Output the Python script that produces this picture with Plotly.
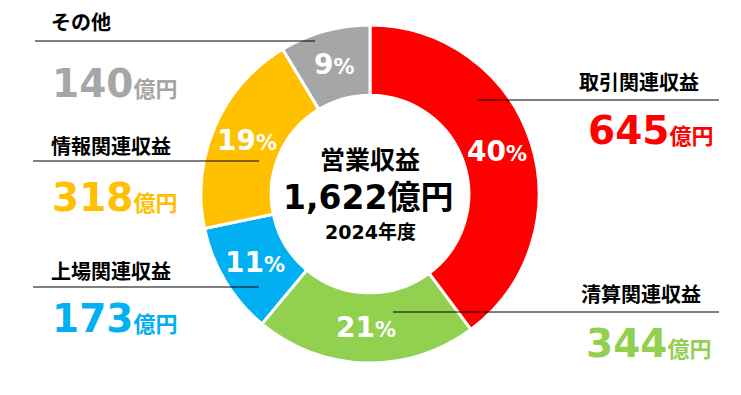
import math
import plotly.graph_objects as go

# ---- data ----
categories = ["取引関連収益", "清算関連収益", "上場関連収益", "情報関連収益", "その他"]
values = [645, 344, 173, 318, 140]
percents = [40, 21, 11, 19, 9]
colors = ["#FF0000", "#92D050", "#00B0F0", "#FFC000", "#A6A6A6"]
center_title = "営業収益"
total_label = "1,622"
unit = "億円"
fiscal_year = "2024年度"

W, H = 741, 395
OFF = 8  # default page body margin
FW, FH = W - 2 * OFF, H - 2 * OFF
FONT_NUM = "DejaVu Sans, Noto Sans CJK JP, sans-serif"
FONT_JP = "Noto Sans CJK JP, sans-serif"


def px(x):
    return (x - OFF) / FW


def py(y):
    return 1 - (y - OFF) / FH


cx, cy, R = 370, 194, 169
HOLE = 0.585

fig = go.Figure()
fig.add_trace(go.Pie(
    labels=categories,
    values=values,
    textinfo="none",
    sort=False,
    direction="clockwise",
    rotation=0,
    hole=HOLE,
    marker=dict(colors=colors, line=dict(color="white", width=3)),
    domain=dict(x=[px(cx - R), px(cx + R)], y=[py(cy + R), py(cy - R)]),
    showlegend=False,
    hoverinfo="skip",
))

annotations = []
shapes = []

# percentage labels at the middle of each slice
total = sum(values)
rm = R * (1 + HOLE) / 2
cum = 0
for v, p in zip(values, percents):
    mid = (cum + v / 2) / total
    cum += v
    th = 2 * math.pi * mid
    x = cx + rm * math.sin(th)
    y = cy - rm * math.cos(th)
    annotations.append(dict(
        x=px(x), y=py(y), xref="paper", yref="paper", showarrow=False,
        xanchor="center", yanchor="middle",
        text=f"<b>{p}<span style='font-size:21px'>%</span></b>",
        font=dict(family=FONT_NUM, size=28, color="white"),
    ))

# outside labels
layout_spec = {
    0: dict(anchor="right", nx=700, ny=82, vx=715, vy=130, line=(477, 719, 100)),
    1: dict(anchor="right", nx=702, ny=293, vx=713, vy=343, line=(393, 719, 312)),
    2: dict(anchor="left", nx=50, ny=270, vx=50, vy=318, line=(33, 259, 287)),
    3: dict(anchor="left", nx=50, ny=145, vx=50, vy=197, line=(33, 259, 161)),
    4: dict(anchor="left", nx=50, ny=21, vx=50, vy=83, line=(35, 315, 41)),
}

for i, spec in layout_spec.items():
    annotations.append(dict(
        x=px(spec["nx"]), y=py(spec["ny"]), xref="paper", yref="paper",
        xanchor=spec["anchor"], yanchor="middle", showarrow=False, borderpad=0,
        text=f"<b>{categories[i]}</b>",
        font=dict(family=FONT_JP, size=20, color="black"),
    ))
    annotations.append(dict(
        x=px(spec["vx"]), y=py(spec["vy"]), xref="paper", yref="paper",
        xanchor=spec["anchor"], yanchor="middle", showarrow=False,
        text=f"<b>{values[i]}<span style='font-size:22px'>{unit}</span></b>",
        font=dict(family=FONT_NUM, size=39, color=colors[i]),
    ))
    x0, x1, ly = spec["line"]
    shapes.append(dict(
        type="line", xref="paper", yref="paper",
        x0=px(x0), x1=px(x1), y0=py(ly), y1=py(ly),
        line=dict(color="black", width=1), layer="above",
    ))

annotations += [
    dict(x=px(370), y=py(158), xref="paper", yref="paper", showarrow=False,
         text=f"<b>{center_title}</b>", font=dict(family=FONT_JP, size=25, color="black")),
    dict(x=px(368), y=py(197), xref="paper", yref="paper", showarrow=False,
         text=f"<b>{total_label}{unit}</b>", font=dict(family=FONT_NUM, size=33, color="black")),
    dict(x=px(370), y=py(232), xref="paper", yref="paper", showarrow=False,
         text=f"<b>{fiscal_year}</b>", font=dict(family=FONT_NUM, size=19, color="black")),
]

fig.update_layout(
    width=FW, height=FH,
    margin=dict(l=0, r=0, t=0, b=0),
    paper_bgcolor="white", plot_bgcolor="white",
    annotations=annotations, shapes=shapes,
    font=dict(family=FONT_NUM),
)

fig.write_html("out.html")
